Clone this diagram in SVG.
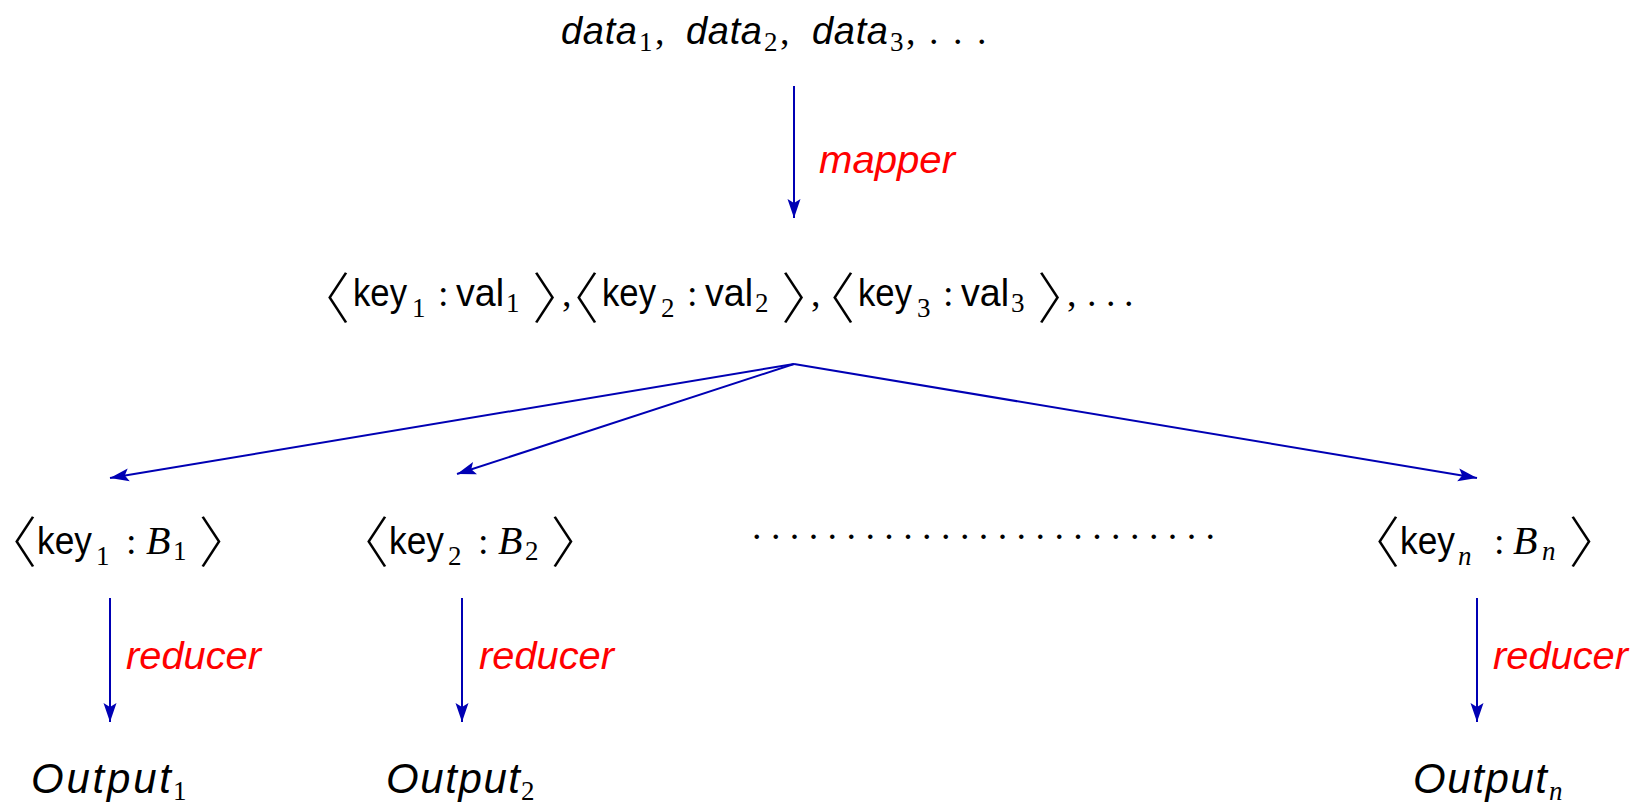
<svg xmlns="http://www.w3.org/2000/svg" width="1646" height="804" viewBox="0 0 1646 804">
  <defs>
    <style>
      .it { font-family: "Liberation Sans", Arial, sans-serif; font-style: italic; font-size: 38px; fill: #000; }
      .out { font-family: "Liberation Sans", Arial, sans-serif; font-style: italic; font-size: 42px; fill: #000; }
      .up { font-family: "Liberation Sans", Arial, sans-serif; font-size: 38px; fill: #000; }
      .sub { font-family: "Liberation Serif", "Times New Roman", serif; font-size: 27px; fill: #000; }
      .subi { font-family: "Liberation Serif", "Times New Roman", serif; font-style: italic; font-size: 27px; fill: #000; }
      .rm { font-family: "Liberation Serif", "Times New Roman", serif; font-size: 38px; fill: #000; }
      .mi { font-family: "Liberation Serif", "Times New Roman", serif; font-style: italic; font-size: 40px; fill: #000; }
      .br { font-family: "Noto Sans CJK JP", "Noto Sans CJK SC", sans-serif; font-weight: 300; font-size: 55px; fill: #000; text-anchor: middle; font-feature-settings: "palt" 1; }
      .lbl { font-family: "Liberation Sans", Arial, sans-serif; font-style: italic; font-size: 39px; fill: #ff0000; }
      .edge { stroke: #0000b4; stroke-width: 2; fill: none; marker-end: url(#tip); }
    </style>
    <marker id="tip" markerUnits="userSpaceOnUse" markerWidth="22" markerHeight="16" refX="19" refY="8" orient="auto">
      <path d="M0,1.5 L19,8 L0,14.5 L4,8 Z" fill="#0000b4"/>
    </marker>
  </defs>

  <!-- connectors -->
  <g id="connectors">
    <line class="edge" x1="794" y1="86" x2="794" y2="218"/>
    <line class="edge" x1="794" y1="364" x2="110" y2="478"/>
    <line class="edge" x1="794" y1="364" x2="457" y2="474"/>
    <line class="edge" x1="794" y1="364" x2="1477" y2="478"/>
    <line class="edge" x1="110" y1="598" x2="110" y2="722"/>
    <line class="edge" x1="462" y1="598" x2="462" y2="722"/>
    <line class="edge" x1="1477" y1="598" x2="1477" y2="722"/>
    <text class="lbl" x="819" y="173" textLength="136" lengthAdjust="spacingAndGlyphs">mapper</text>
    <text class="lbl" x="126" y="669" textLength="135" lengthAdjust="spacingAndGlyphs">reducer</text>
    <text class="lbl" x="479" y="669" textLength="135" lengthAdjust="spacingAndGlyphs">reducer</text>
    <text class="lbl" x="1493" y="669" textLength="135" lengthAdjust="spacingAndGlyphs">reducer</text>
  </g>

  <!-- input data -->
  <g id="input">
    <text class="it" x="561" y="44" textLength="76" lengthAdjust="spacing">data</text>
    <text class="sub" x="639" y="51">1</text>
    <text class="rm" x="655" y="44">,</text>
    <text class="it" x="686" y="44" textLength="76" lengthAdjust="spacing">data</text>
    <text class="sub" x="764" y="51">2</text>
    <text class="rm" x="780" y="44">,</text>
    <text class="it" x="812" y="44" textLength="76" lengthAdjust="spacing">data</text>
    <text class="sub" x="890" y="51">3</text>
    <text class="rm" x="906" y="44">,</text>
    <text class="rm" x="929 953 977" y="44">...</text>
  </g>

  <!-- mapped key/value pairs -->
  <g id="pairs">
    <text class="br" x="335" y="318">〈</text>
    <text class="up" x="353" y="306" textLength="54" lengthAdjust="spacingAndGlyphs">key</text>
    <text class="sub" x="412" y="317">1</text>
    <text class="rm" x="438" y="306">:</text>
    <text class="up" x="456" y="306" textLength="48" lengthAdjust="spacingAndGlyphs">val</text>
    <text class="sub" x="506" y="312">1</text>
    <text class="br" x="547.5" y="318">〉</text>
    <text class="rm" x="562" y="306">,</text>

    <text class="br" x="584" y="318">〈</text>
    <text class="up" x="602" y="306" textLength="54" lengthAdjust="spacingAndGlyphs">key</text>
    <text class="sub" x="661" y="317">2</text>
    <text class="rm" x="687" y="306">:</text>
    <text class="up" x="705" y="306" textLength="48" lengthAdjust="spacingAndGlyphs">val</text>
    <text class="sub" x="755" y="312">2</text>
    <text class="br" x="796.5" y="318">〉</text>
    <text class="rm" x="811" y="306">,</text>

    <text class="br" x="840" y="318">〈</text>
    <text class="up" x="858" y="306" textLength="54" lengthAdjust="spacingAndGlyphs">key</text>
    <text class="sub" x="917" y="317">3</text>
    <text class="rm" x="943" y="306">:</text>
    <text class="up" x="961" y="306" textLength="48" lengthAdjust="spacingAndGlyphs">val</text>
    <text class="sub" x="1011" y="312">3</text>
    <text class="br" x="1052.5" y="318">〉</text>
    <text class="rm" x="1067" y="306">,</text>
    <text class="rm" x="1087 1106 1124" y="306">...</text>
  </g>

  <!-- grouped keys -->
  <g id="group1">
    <text class="br" x="22" y="562">〈</text>
    <text class="up" x="37" y="554" textLength="55" lengthAdjust="spacingAndGlyphs">key</text>
    <text class="sub" x="96" y="565">1</text>
    <text class="rm" x="126" y="554">:</text>
    <text class="mi" x="146" y="554">B</text>
    <text class="sub" x="173" y="560">1</text>
    <text class="br" x="214" y="562">〉</text>
  </g>
  <g id="group2">
    <text class="br" x="374" y="562">〈</text>
    <text class="up" x="389" y="554" textLength="55" lengthAdjust="spacingAndGlyphs">key</text>
    <text class="sub" x="448" y="565">2</text>
    <text class="rm" x="478" y="554">:</text>
    <text class="mi" x="498" y="554">B</text>
    <text class="sub" x="525" y="560">2</text>
    <text class="br" x="566" y="562">〉</text>
  </g>
  <g id="ellipsis">
    <text class="rm" x="752 770.9 789.8 808.7 827.6 846.5 865.4 884.3 903.2 922.1 941 959.9 978.8 997.7 1016.6 1035.5 1054.4 1073.3 1092.2 1111.1 1130 1148.9 1167.8 1186.7 1205.6" y="539">.........................</text>
  </g>
  <g id="groupn">
    <text class="br" x="1385" y="562">〈</text>
    <text class="up" x="1400" y="554" textLength="55" lengthAdjust="spacingAndGlyphs">key</text>
    <text class="subi" x="1458" y="565">n</text>
    <text class="rm" x="1494" y="554">:</text>
    <text class="mi" x="1513" y="554">B</text>
    <text class="subi" x="1542" y="560">n</text>
    <text class="br" x="1584" y="562">〉</text>
  </g>

  <!-- outputs -->
  <g id="output1">
    <text class="out" x="31" y="793" textLength="140" lengthAdjust="spacing">Output</text>
    <text class="sub" x="173" y="800">1</text>
  </g>
  <g id="output2">
    <text class="out" x="386" y="793" textLength="134" lengthAdjust="spacing">Output</text>
    <text class="sub" x="521" y="800">2</text>
  </g>
  <g id="outputn">
    <text class="out" x="1413" y="793" textLength="134" lengthAdjust="spacing">Output</text>
    <text class="subi" x="1549" y="800">n</text>
  </g>
</svg>
